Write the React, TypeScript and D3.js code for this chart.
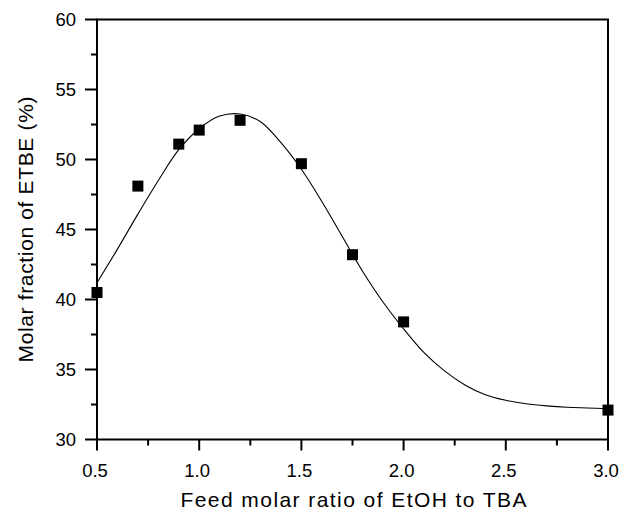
import React from "react";
import * as d3 from "d3";

const ratioX = [0.5, 0.7, 0.9, 1.0, 1.2, 1.5, 1.75, 2.0, 3.0];
const etbeY = [40.5, 48.1, 51.1, 52.1, 52.8, 49.7, 43.2, 38.4, 32.1];

const fitX = [0.5, 0.6, 0.7, 0.8, 0.9, 1.0, 1.1, 1.2, 1.3, 1.4, 1.5, 1.6, 1.7, 1.8, 1.9, 2.0, 2.1, 2.2, 2.3, 2.4, 2.5, 2.6, 2.7, 2.8, 2.9, 3.0];
const fitY = [41.2, 43.6, 46.1, 48.5, 50.7, 52.2, 53.1, 53.25, 52.7, 51.2, 49.3, 47.0, 44.5, 42.0, 39.8, 37.9, 36.2, 34.9, 33.9, 33.2, 32.8, 32.55, 32.4, 32.3, 32.25, 32.2];

const xMajor = [0.5, 1.0, 1.5, 2.0, 2.5, 3.0];
const xMinor = [0.75, 1.25, 1.75, 2.25, 2.75];
const yMajor = [30, 35, 40, 45, 50, 55, 60];
const yMinor = [32.5, 37.5, 42.5, 47.5, 52.5, 57.5];

const xTitle = "Feed molar ratio of EtOH to TBA";
const yTitle = "Molar fraction of ETBE (%)";

const W = 633, H = 511;
const L = 97, R = 608, T = 19.5, B = 439.5;

export default function App() {
  const x = d3.scaleLinear().domain([0.5, 3.0]).range([L, R]);
  const y = d3.scaleLinear().domain([30, 60]).range([B, T]);
  const line = d3
    .line<number>()
    .x((_, i) => x(fitX[i]))
    .y((d) => y(d))
    .curve(d3.curveCatmullRom.alpha(0.5));
  const font = "Arial, 'Liberation Sans', Helvetica, sans-serif";
  const ms = 11;
  return (
    <svg
      width={W}
      height={H}
      style={{ position: "absolute", left: 0, top: 0, background: "#fff" }}
      fontFamily={font}
    >
      <rect x={0} y={0} width={W} height={H} fill="#fff" />
      <path d={line(fitY) || ""} fill="none" stroke="#000" strokeWidth={1.1} />
      {ratioX.map((v, i) => (
        <rect
          key={i}
          x={x(v) - ms / 2}
          y={y(etbeY[i]) - ms / 2}
          width={ms}
          height={ms}
          fill="#000"
        />
      ))}
      <rect x={L} y={T} width={R - L} height={B - T} fill="none" stroke="#000" strokeWidth={2} />
      {xMajor.map((v) => (
        <g key={"xm" + v}>
          <line x1={x(v)} x2={x(v)} y1={B} y2={B + 11} stroke="#000" strokeWidth={2} />
          <text x={x(v) - 2} y={477} fontSize={18.5} textAnchor="middle" fill="#000">
            {v.toFixed(1)}
          </text>
        </g>
      ))}
      {xMinor.map((v) => (
        <line key={"xn" + v} x1={x(v)} x2={x(v)} y1={B} y2={B + 6} stroke="#000" strokeWidth={2} />
      ))}
      {yMajor.map((v) => (
        <g key={"ym" + v}>
          <line x1={L - 12} x2={L} y1={y(v)} y2={y(v)} stroke="#000" strokeWidth={2} />
          <text x={76} y={y(v) + 6.5} fontSize={18.5} textAnchor="end" fill="#000">
            {v}
          </text>
        </g>
      ))}
      {yMinor.map((v) => (
        <line key={"yn" + v} x1={L - 6} x2={L} y1={y(v)} y2={y(v)} stroke="#000" strokeWidth={2} />
      ))}
      <text
        x={(L + R) / 2 - 172}
        y={507}
        fontSize={21}
        textLength={346}
        lengthAdjust="spacing"
        fill="#000"
      >
        {xTitle}
      </text>
      <text
        transform={`translate(33, ${(T + B) / 2 + 133}) rotate(-90)`}
        fontSize={21}
        textLength={266}
        lengthAdjust="spacing"
        fill="#000"
      >
        {yTitle}
      </text>
    </svg>
  );
}
